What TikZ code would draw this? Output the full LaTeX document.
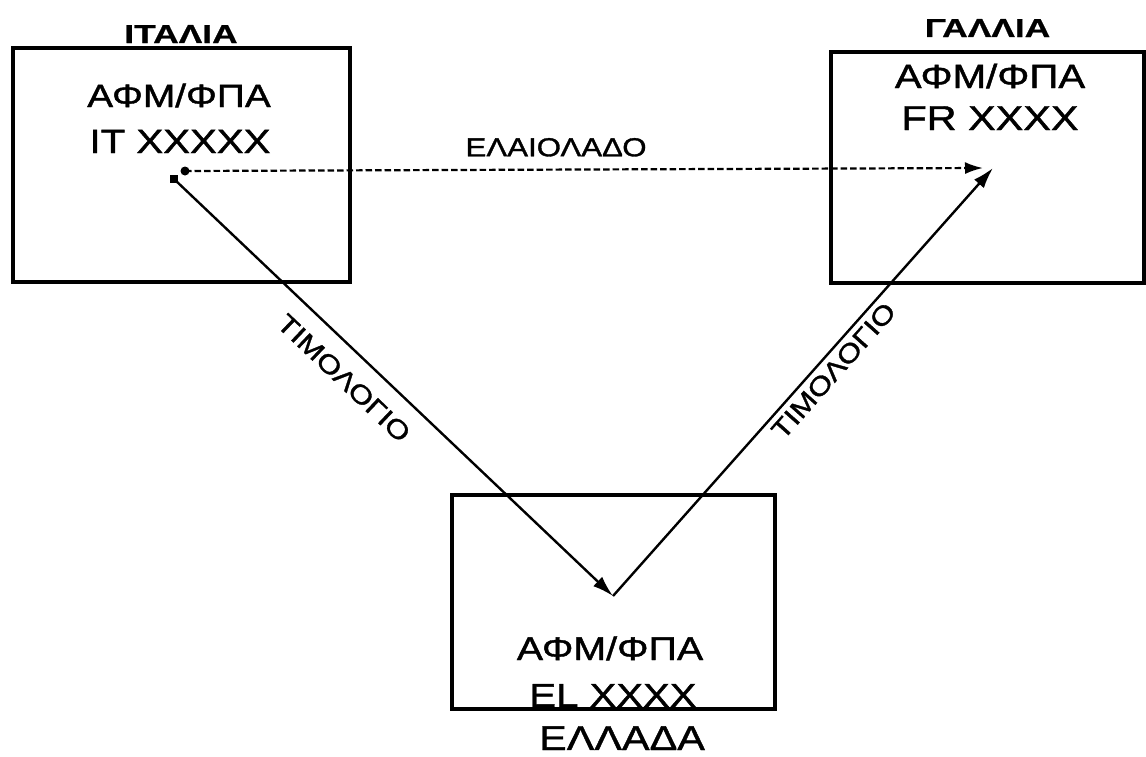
\documentclass[tikz,border=0pt]{standalone}
\usepackage{fontspec}
\setmainfont{Liberation Sans}[FakeStretch=1.2]
\newfontfamily\heavy{Liberation Sans}[FakeStretch=1.2,FakeBold=1.3]
\newfontfamily\heavybf{Liberation Sans Bold}[FakeStretch=1.36,FakeBold=0.8]
\usetikzlibrary{arrows.meta}
\begin{document}
\begin{tikzpicture}[x=1pt,y=-1pt,
  box/.style={draw,line width=3.4pt,rectangle,inner sep=0pt},
  big/.style={inner sep=0pt,anchor=base,font=\heavy\fontsize{#1}{36}\selectfont},
  ttl/.style={inner sep=0pt,anchor=base,font=\heavybf\fontsize{26}{30}\selectfont},
  lab/.style={inner sep=0pt,font=\heavy\fontsize{26}{30}\selectfont},
  conn/.style={line width=2.4pt,-{Latex[length=21pt,width=13pt]}},
  dconn/.style={line width=2.2pt,dash pattern=on 6.5pt off 3pt,-{Latex[length=18pt,width=12pt]}},
  dotn/.style={circle,fill,inner sep=0pt,minimum size=9pt}]
\useasboundingbox (0,0) rectangle (1146,756);
% boxes
\node[box,minimum width=337pt,minimum height=234pt] (it) at (181.5,165) {};
\node[box,minimum width=313pt,minimum height=231pt] (fr) at (987.5,167.5) {};
\node[box,minimum width=323pt,minimum height=214pt] (el) at (613.5,602) {};
% titles and texts
\node[ttl] (itt) at (181,43) {ΙΤΑΛΙΑ};
\node[ttl] (frt) at (987.5,37) {ΓΑΛΛΙΑ};
\node[big=32.3] (it1) at (179,107) {ΑΦΜ/ΦΠΑ};
\node[big=33.5] (it2) at (180,153) {ΙΤ XXXXX};
\node[big=33.5] (fr1) at (990,88) {ΑΦΜ/ΦΠΑ};
\node[big=34.5] (fr2) at (990,130) {FR XXXX};
\node[big=32.8] (el1) at (610,660) {ΑΦΜ/ΦΠΑ};
\node[big=33.4] (el2) at (613,707) {EL XXXX};
\node[big=34.5] (elt) at (622,750) {ΕΛΛΑΔΑ};
% points
\node[dotn] (d1) at (185,171) {};
\node[dotn,rectangle,minimum size=8pt] (d2) at (174,179) {};
\coordinate (v) at (613,596);
\coordinate (fd) at (983,168);
\coordinate (fs) at (993,168);
% connectors
\draw[dconn] (d1.center) -- node[lab,above=12pt,pos=0.465] (oil) {ΕΛΑΙΟΛΑΔΟ} (fd);
\draw[conn] (d2.center) -- node[lab,sloped,below=17pt,pos=0.43] (inv1) {ΤΙΜΟΛΟΓΙΟ} (v);
\draw[conn] (v) -- node[lab,sloped,below=5pt,pos=0.55] (inv2) {ΤΙΜΟΛΟΓΙΟ} (fs);
\end{tikzpicture}
\end{document}
